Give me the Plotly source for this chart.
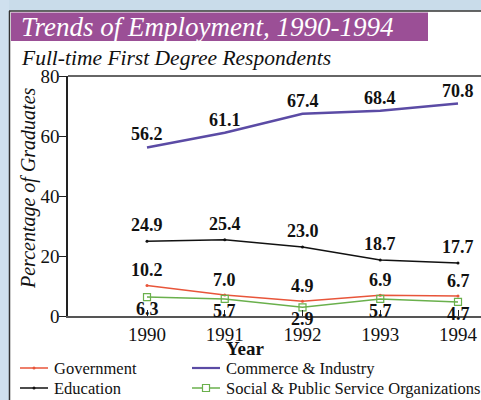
import plotly.graph_objects as go

years = [1990, 1991, 1992, 1993, 1994]
government = [10.2, 7.0, 4.9, 6.9, 6.7]
commerce = [56.2, 61.1, 67.4, 68.4, 70.8]
education = [24.9, 25.4, 23.0, 18.7, 17.7]
social = [6.3, 5.7, 2.9, 5.7, 4.7]
y_ticks = [0, 20, 40, 60, 80]
series_names = ["Government", "Commerce & Industry", "Education", "Social & Public Service Organizations"]
series_colors = ["#E8553A", "#5B4BA5", "#111111", "#6AB04C"]

SERIF = "Liberation Serif, Times New Roman, serif"
W, H = 481, 400
L, R, T, B = 68, 0, 76, 84
PW, PH = W - L - R, H - T - B

def px(x):
    return (x - L) / PW

def py(y):
    return (H - B - y) / PH

series_values = [government, commerce, education, social]
marker_kind = ["dot", None, "dot", "square"]

fig = go.Figure()
for name, vals, color, kind in zip(series_names, series_values, series_colors, marker_kind):
    if kind == "square":
        mk = dict(size=7, symbol="square-open", color=color, line=dict(width=1.2))
        mode = "lines+markers"
    elif kind == "dot":
        mk = dict(size=3, color=color)
        mode = "lines+markers"
    else:
        mk = None
        mode = "lines"
    fig.add_trace(go.Scatter(x=years, y=vals, name=name, mode=mode, marker=mk,
                             line=dict(color=color, width=2.5 if kind is None else 1.5)))

annotations = []
for series, shift in [(commerce, 13), (education, 16), (government, 15), (social, -12)]:
    for xv, yv in zip(years, series):
        annotations.append(dict(x=xv, y=yv, text=f"<b>{yv:.1f}</b>", showarrow=False, yshift=shift,
                                font=dict(family=SERIF, size=18, color="#111111")))

annotations += [
    dict(xref="paper", yref="paper", x=px(19), y=py(27), xanchor="left", yanchor="middle",
         text="<i>Trends of Employment, 1990-1994</i>", showarrow=False,
         font=dict(family=SERIF, size=27, color="white")),
    dict(xref="paper", yref="paper", x=px(19), y=py(58), xanchor="left", yanchor="middle",
         text="<i>Full-time First Degree Respondents</i>", showarrow=False,
         font=dict(family=SERIF, size=21.5, color="#111111")),
    dict(xref="paper", yref="paper", x=px(28), y=py(188), xanchor="center", yanchor="middle",
         text="<i>Percentage of Graduates</i>", textangle=-90, showarrow=False,
         font=dict(family=SERIF, size=20, color="#111111")),
    dict(xref="paper", yref="paper", x=px(245), y=py(348), xanchor="center", yanchor="middle",
         text="<b>Year</b>", showarrow=False,
         font=dict(family=SERIF, size=19, color="#111111")),
]

shapes = [
    dict(type="rect", xref="paper", yref="paper", x0=px(0), x1=px(W), y0=py(0), y1=py(10.5),
         fillcolor="#C9DCEA", line=dict(width=0), layer="below"),
    dict(type="rect", xref="paper", yref="paper", x0=px(0), x1=px(9), y0=py(0), y1=py(H),
         fillcolor="#CFE0EE", line=dict(width=0), layer="below"),
    dict(type="line", xref="paper", yref="paper", x0=px(9), x1=px(W), y0=py(11), y1=py(11),
         line=dict(color="#333333", width=1.5)),
    dict(type="line", xref="paper", yref="paper", x0=px(9.5), x1=px(9.5), y0=py(11), y1=py(H),
         line=dict(color="#333333", width=1.5)),
    dict(type="rect", xref="paper", yref="paper", x0=px(11), x1=px(428), y0=py(12.5), y1=py(41),
         fillcolor="#9B4F96", line=dict(width=0), layer="below"),
    dict(type="line", xref="paper", yref="paper", x0=0, x1=1, y0=1, y1=1,
         line=dict(color="#333333", width=1.5)),
]

# legend drawn as shapes + text (two columns)
legend_slots = [(20, 368), (192, 368), (20, 388), (192, 388)]
for (lx, ly), name, color, kind in zip(legend_slots, series_names, series_colors, marker_kind):
    x0, x1 = lx, lx + 28
    shapes.append(dict(type="line", xref="paper", yref="paper", x0=px(x0), x1=px(x1),
                       y0=py(ly), y1=py(ly), line=dict(color=color, width=2.2 if kind is None else 1.5)))
    cx = (x0 + x1) / 2
    if kind == "square":
        shapes.append(dict(type="rect", xref="paper", yref="paper", x0=px(cx - 3.5), x1=px(cx + 3.5),
                           y0=py(ly - 3.5), y1=py(ly + 3.5), fillcolor="white",
                           line=dict(color=color, width=1.2)))
    elif kind == "dot":
        shapes.append(dict(type="circle", xref="paper", yref="paper", x0=px(cx - 1.5), x1=px(cx + 1.5),
                           y0=py(ly - 1.5), y1=py(ly + 1.5), fillcolor=color,
                           line=dict(color=color, width=0)))
    annotations.append(dict(xref="paper", yref="paper", x=px(x1 + 4), y=py(ly), xanchor="left",
                            yanchor="middle", text=name, showarrow=False,
                            font=dict(family=SERIF, size=16.5, color="#111111")))

fig.update_layout(
    width=W, height=H, margin=dict(l=L, r=R, t=T, b=B, autoexpand=False),
    paper_bgcolor="white", plot_bgcolor="white",
    showlegend=False,
    annotations=annotations, shapes=shapes,
    xaxis=dict(range=[1990 - 79 / 77.75, 1994 + 23 / 77.75], tickmode="array", tickvals=years,
               ticktext=[str(y) for y in years], ticks="inside", ticklen=6, tickcolor="#222",
               showgrid=False, zeroline=False, showline=True, linecolor="#555555", linewidth=1.5,
               tickfont=dict(family=SERIF, size=19, color="#111111")),
    yaxis=dict(range=[0, 80], tickvals=y_ticks, ticks="outside", ticklen=7, tickcolor="#222",
               ticklabelstandoff=-4,
               showgrid=False, zeroline=False, showline=True, linecolor="#222222", linewidth=1.5,
               tickfont=dict(family=SERIF, size=19, color="#111111")),
)

fig.write_html("out.html", config={"displayModeBar": False},
               post_script="document.body.style.margin='0';document.body.style.overflow='hidden';")
